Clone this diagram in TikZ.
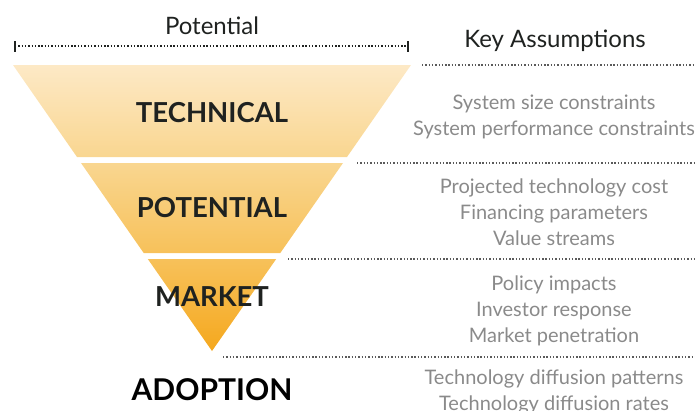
\documentclass[tikz,border=0pt]{standalone}
\usepackage{fontspec}
\setmainfont{Lato}
\usepackage{xcolor}
\usepackage{tikz}
\usetikzlibrary{positioning}

\definecolor{inkDark}{HTML}{1F2220}
\definecolor{noteGray}{HTML}{8A8A8A}
\definecolor{sepGray}{HTML}{5A5A5A}
\definecolor{fillA}{HTML}{FDE9C6}
\definecolor{fillB}{HTML}{F9D690}
\definecolor{fillC}{HTML}{F7C15A}
\definecolor{fillD}{HTML}{F5A81E}

\begin{document}
\begin{tikzpicture}[x=1pt, y=-1pt, every node/.style = {inner sep=0pt, outer sep=0pt},
  stage/.style = {font=\fontsize{27.5}{32}\selectfont\bfseries, text=inkDark, anchor=base},
  heading/.style = {font=\fontsize{24}{28}\selectfont, text=inkDark, anchor=base},
  note/.style = {font=\fontsize{20}{26}\selectfont, text=noteGray, align=center},
  sep/.style = {draw=sepGray, line width=1.1pt, dash pattern=on 1.4pt off 1.9pt},
]
\useasboundingbox (0,0) rectangle (695,410);

% funnel bands
\shade[top color=fillA, bottom color=fillB] (13,65) -- (411,65) -- (347,157) -- (77,157) -- cycle;
\shade[top color=fillB, bottom color=fillC] (81,163) -- (343,163) -- (280.3,253) -- (143.7,253) -- cycle;
\shade[top color=fillC, bottom color=fillD] (147.8,259) -- (276.2,259) -- (212,351) -- cycle;

% stage labels
\node[stage] (technical) at (212,122) {TECHNICAL};
\node[stage] (potential) at (212,217) {POTENTIAL};
\node[stage] (market) at (212,306) {MARKET};
\node[stage, font=\fontsize{30}{34}\selectfont\bfseries, text=black] (adoption) at (212,400) {ADOPTION};

% headings
\node[heading] (potentialHead) at (212,34) {Potential};
\node[heading] (keyHead) at (555,47) {Key Assumptions};

% bracket under the heading
\coordinate (bracketL) at (15,46);
\coordinate (bracketR) at (408,46);
\draw[sep, draw=inkDark] (bracketL) -- (bracketR);
\draw[inkDark, line width=1.3pt] (15,41) -- (15,52) (408,41) -- (408,52);

% separators
\coordinate (sepA) at (422,65);
\coordinate (sepB) at (357,163);
\coordinate (sepC) at (288,259);
\coordinate (sepD) at (223,357);
\draw[sep] (sepA) -- (695,65);
\draw[sep] (sepB) -- (695,163);
\draw[sep] (sepC) -- (695,259);
\draw[sep] (sepD) -- (695,357);

% assumptions
\node[note] (techNote) at (554,116.5) {System size constraints\\System performance constraints};
\node[note] (potNote) at (554,212) {Projected technology cost\\Financing parameters\\Value streams};
\node[note] (marketNote) at (554,310.5) {Policy impacts\\Investor response\\Market penetration};
\node[note] (adoptNote) at (554,391.5) {Technology diffusion patterns\\Technology diffusion rates};
\end{tikzpicture}
\end{document}
